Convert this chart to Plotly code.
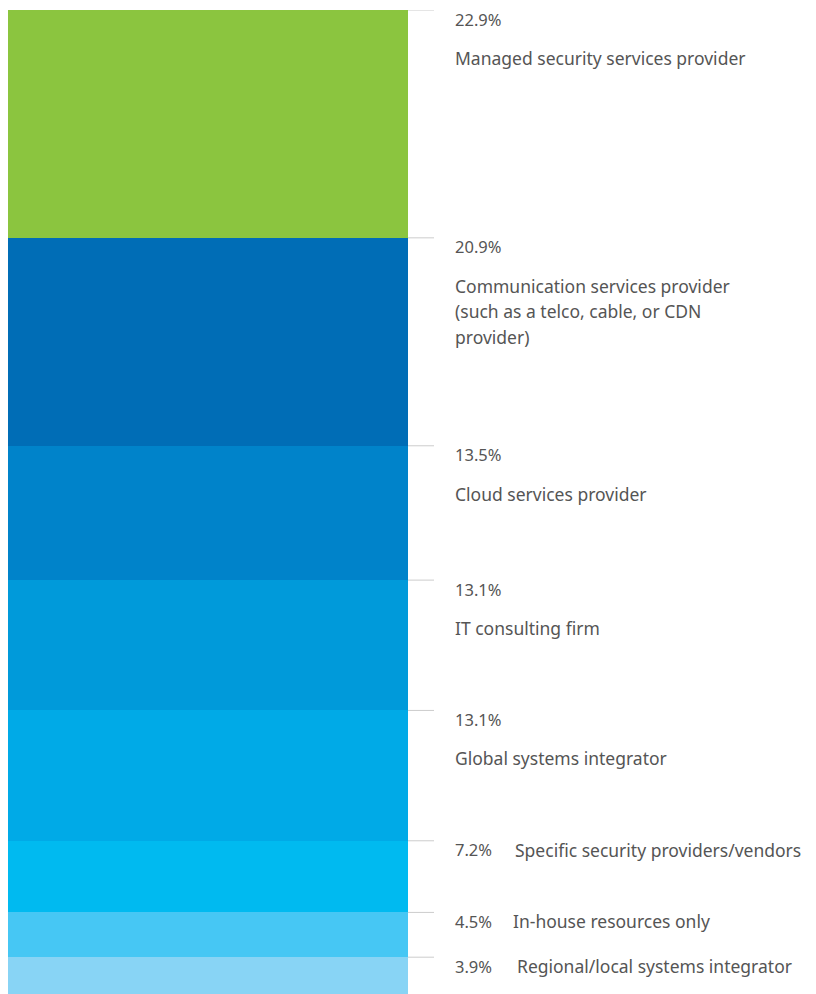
import plotly.graph_objects as go

categories = [
    "Managed security services provider",
    "Communication services provider<br>(such as a telco, cable, or CDN<br>provider)",
    "Cloud services provider",
    "IT consulting firm",
    "Global systems integrator",
    "Specific security providers/vendors",
    "In-house resources only",
    "Regional/local systems integrator",
]
values = [22.9, 20.9, 13.5, 13.1, 13.1, 7.2, 4.5, 3.9]
pct_labels = ["22.9%", "20.9%", "13.5%", "13.1%", "13.1%", "7.2%", "4.5%", "3.9%"]
inline_label = [False, False, False, False, False, True, True, True]
inline_x = [None, None, None, None, None, 513, 511, 515]

colors = ["#8BC53F", "#006DB6", "#0083CA", "#009ADA", "#00AAE7",
          "#00BAF0", "#46C7F4", "#88D4F5"]

# the page places the figure at an 8px offset
OFF = 8
W, H = 816, 994
L, R, T, Bot = 8 - OFF, 408 - OFF, 10 - OFF, 996 - OFF
plot_w = R - L

def px_to_paper(x):
    return (x - OFF - L) / plot_w

fig = go.Figure()
for name, v, c in zip(categories, values, colors):
    fig.add_trace(go.Bar(x=["all"], y=[v], name=name, marker=dict(color=c, line=dict(width=0)),
                         hoverinfo="skip", showlegend=False))

pct_font = dict(family="Noto Sans, Open Sans, sans-serif", size=16.5, color="#555555")
font = dict(family="Noto Sans, Open Sans, sans-serif", size=17.5, color="#555555")

start = 0.0
for name, v, pct, inl, ix in zip(categories, values, pct_labels, inline_label, inline_x):
    fig.add_shape(type="line", xref="paper", yref="y",
                  x0=px_to_paper(408), x1=px_to_paper(434), y0=start, y1=start,
                  line=dict(color="#cccccc", width=1))
    fig.add_annotation(xref="paper", yref="y", x=px_to_paper(453), y=start,
                       text=pct, showarrow=False, xanchor="left", yanchor="middle",
                       yshift=-9, font=pct_font)
    lines = name.split("<br>")
    if inl:
        fig.add_annotation(xref="paper", yref="y", x=px_to_paper(ix), y=start,
                           text=lines[0], showarrow=False, xanchor="left", yanchor="middle",
                           yshift=-9, font=font)
    else:
        for i, ln in enumerate(lines):
            fig.add_annotation(xref="paper", yref="y", x=px_to_paper(453), y=start,
                               text=ln, showarrow=False, xanchor="left", yanchor="middle",
                               yshift=-48 - 25.5 * i, font=font)
    start += v

fig.update_layout(
    width=W, height=H,
    margin=dict(l=L, r=W - R, t=T, b=H - Bot),
    barmode="stack", bargap=0,
    paper_bgcolor="white", plot_bgcolor="white",
    xaxis=dict(visible=False),
    yaxis=dict(visible=False, range=[sum(values), 0]),
)

fig.write_html("out.html")
